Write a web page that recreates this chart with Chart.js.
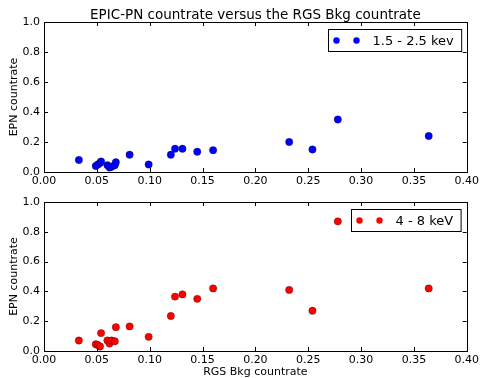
<!DOCTYPE html>
<html>
<head>
<meta charset="utf-8">
<script src="https://cdn.jsdelivr.net/npm/chart.js@4.4.0/dist/chart.umd.min.js"></script>
<style>
  body { margin: 0; background: #fff; width: 482px; height: 378px; overflow: hidden; }
  canvas { position: absolute; left: 0; }
  #topChart { top: 0; }
  #bottomChart { top: 190px; }
</style>
</head>
<body>
<canvas id="topChart" width="482" height="190"></canvas>
<canvas id="bottomChart" width="482" height="188"></canvas>
<script>
// RGS background countrate (shared x values)
const rgsBkg = [0.033, 0.049, 0.051, 0.053, 0.054, 0.060, 0.062, 0.064, 0.067, 0.068,
    0.081, 0.099, 0.120, 0.124, 0.131, 0.145, 0.160, 0.232, 0.254, 0.278, 0.364];

// EPN countrate, 1.5 - 2.5 keV
const epnSoft = [0.08, 0.04, 0.05, 0.06, 0.07, 0.045, 0.03, 0.035, 0.045, 0.065,
    0.115, 0.05, 0.115, 0.155, 0.155, 0.135, 0.145, 0.20, 0.15, 0.35, 0.24];

// EPN countrate, 4 - 8 keV
const epnHard = [0.07, 0.045, 0.04, 0.03, 0.12, 0.07, 0.05, 0.07, 0.065, 0.16,
    0.165, 0.095, 0.235, 0.365, 0.38, 0.35, 0.42, 0.41, 0.27, 0.87, 0.42];

const xTicks = [0, 0.05, 0.10, 0.15, 0.20, 0.25, 0.30, 0.35, 0.40];
const yTicks = [0, 0.2, 0.4, 0.6, 0.8, 1.0];

const FONT = 'DejaVu Sans';

function toPoints(xs, ys) {
    return xs.map((x, i) => ({ x: x, y: ys[i] }));
}

// matplotlib-like frame, inward ticks on all four sides, title and a two-marker legend
const framePlugin = {
    id: 'frame',
    afterDraw(chart, args, opts) {
        const ctx = chart.ctx;
        const a = chart.chartArea;
        const xs = chart.scales.x, ys = chart.scales.y;
        ctx.save();
        ctx.strokeStyle = '#000';
        ctx.lineWidth = 1;
        ctx.beginPath();
        xTicks.forEach(v => {
            const px = Math.round(xs.getPixelForValue(v)) + 0.5;
            ctx.moveTo(px, a.bottom); ctx.lineTo(px, a.bottom - 4);
            ctx.moveTo(px, a.top); ctx.lineTo(px, a.top + 4);
        });
        yTicks.forEach(v => {
            const py = Math.round(ys.getPixelForValue(v)) + 0.5;
            ctx.moveTo(a.left, py); ctx.lineTo(a.left + 4, py);
            ctx.moveTo(a.right, py); ctx.lineTo(a.right - 4, py);
        });
        ctx.stroke();
        ctx.strokeRect(Math.round(a.left) + 0.5, Math.round(a.top) + 0.5,
            Math.round(a.right - a.left), Math.round(a.bottom - a.top));

        // title over the plot area
        if (opts.title) {
            ctx.fillStyle = '#000';
            ctx.font = '13.5px ' + FONT;
            ctx.textAlign = 'center';
            ctx.textBaseline = 'alphabetic';
            ctx.fillText(opts.title, (a.left + a.right) / 2, 19);
        }

        // legend
        const ds = chart.data.datasets[0];
        ctx.font = '13px ' + FONT;
        const tw = ctx.measureText(ds.label).width;
        const w = 8 + 8 + 12 + 8 + 8 + tw + 8;
        const h = 22;
        const bx = Math.round(a.right - 6 - w) + 0.5;
        const by = Math.round(a.top + 7) + 0.5;
        ctx.fillStyle = '#fff';
        ctx.fillRect(bx, by, w, h);
        ctx.strokeRect(bx, by, w, h);
        const cy = by + h / 2;
        [bx + 8, bx + 28].forEach(cx => {
            ctx.beginPath();
            ctx.arc(cx, cy, 3.2, 0, Math.PI * 2);
            ctx.fillStyle = ds.backgroundColor;
            ctx.fill();
        });
        ctx.fillStyle = '#000';
        ctx.textBaseline = 'middle';
        ctx.textAlign = 'left';
        ctx.fillText(ds.label, bx + 44, cy + 1);
        ctx.restore();
    }
};

function makeChart(canvas, label, values, color, opts) {
    return new Chart(canvas, {
        type: 'scatter',
        data: {
            datasets: [{
                label: label,
                data: toPoints(rgsBkg, values),
                backgroundColor: color,
                borderColor: 'rgba(0,0,0,0.6)',
                borderWidth: 0.5,
                pointRadius: 3.7,
                pointHoverRadius: 3.7
            }]
        },
        options: {
            responsive: false,
            animation: false,
            events: [],
            layout: { padding: { left: 0, right: 14, top: opts.padTop, bottom: 0 } },
            plugins: {
                legend: { display: false },
                tooltip: { enabled: false },
                frame: { title: opts.title }
            },
            scales: {
                x: {
                    type: 'linear',
                    min: 0, max: 0.4,
                    grid: { display: false, drawTicks: false },
                    border: { display: false },
                    afterBuildTicks: s => { s.ticks = xTicks.map(v => ({ value: v })); },
                    afterFit: s => { s.height = opts.xHeight; },
                    ticks: {
                        color: '#000',
                        padding: 3,
                        maxRotation: 0,
                        autoSkip: false,
                        font: { family: FONT, size: 11 },
                        callback: v => v.toFixed(2)
                    },
                    title: opts.xTitle ? {
                        display: true,
                        text: opts.xTitle,
                        color: '#000',
                        font: { family: FONT, size: 11, lineHeight: 1.0 },
                        padding: { top: 0, bottom: 0 }
                    } : { display: false }
                },
                y: {
                    type: 'linear',
                    min: 0, max: 1,
                    grid: { display: false, drawTicks: false },
                    border: { display: false },
                    afterBuildTicks: s => { s.ticks = yTicks.map(v => ({ value: v })); },
                    afterFit: s => { s.width = 44; },
                    ticks: {
                        color: '#000',
                        padding: 4,
                        autoSkip: false,
                        font: { family: FONT, size: 11 },
                        callback: v => v.toFixed(1)
                    },
                    title: {
                        display: true,
                        text: 'EPN countrate',
                        color: '#000',
                        font: { family: FONT, size: 11 },
                        padding: { top: 8, bottom: 0 }
                    }
                }
            }
        },
        plugins: [framePlugin]
    });
}

makeChart(document.getElementById('topChart'), '1.5 - 2.5 kev', epnSoft, '#0000ff', {
    title: 'EPIC-PN countrate versus the RGS Bkg countrate',
    padTop: 22,
    xHeight: 18
});

makeChart(document.getElementById('bottomChart'), '4 - 8 keV', epnHard, '#ff0000', {
    xTitle: 'RGS Bkg countrate',
    padTop: 12,
    xHeight: 27
});
</script>
</body>
</html>
